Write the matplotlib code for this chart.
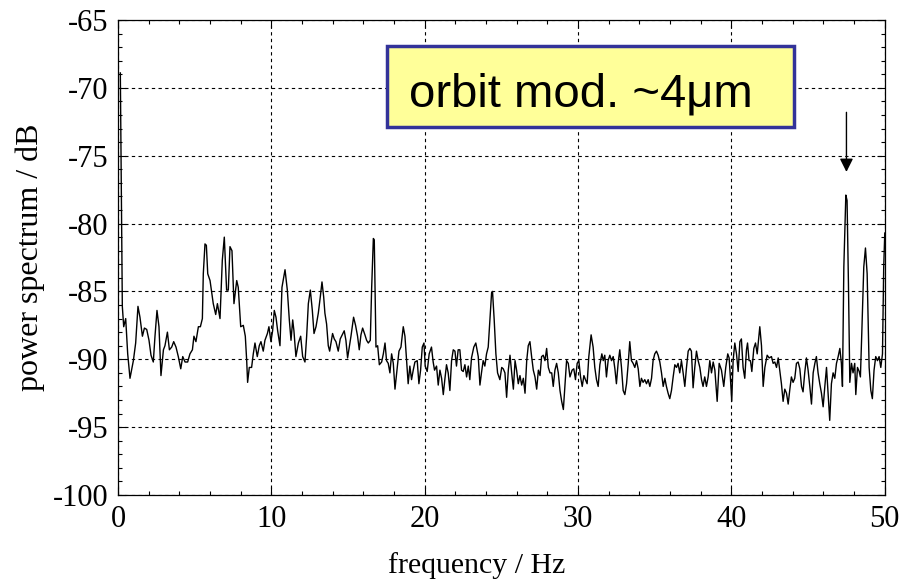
import matplotlib
matplotlib.use("Agg")
import matplotlib.pyplot as plt
from matplotlib.patches import Rectangle
from matplotlib.ticker import MultipleLocator

# spectrum, frequency in Hz / power in dB
freq = [
    0.15, 0.28, 0.37, 0.50, 0.63, 0.78, 1.00, 1.15, 1.30, 1.43, 1.59, 1.72, 1.87, 2.02, 2.15, 2.30,
    2.41, 2.54, 2.67, 2.80, 2.96, 3.06, 3.22, 3.35, 3.50, 3.63, 3.78, 3.93, 4.09, 4.22, 4.37, 4.54,
    4.69, 4.85, 4.95, 5.08, 5.24, 5.37, 5.50, 5.56, 5.67, 5.76, 5.85, 6.00, 6.21, 6.37, 6.48, 6.65,
    6.80, 6.93, 7.08, 7.19, 7.30, 7.43, 7.56, 7.74, 7.84, 8.00, 8.17, 8.30, 8.39, 8.45, 8.56, 8.71,
    8.82, 8.93, 9.08, 9.21, 9.32, 9.47, 9.58, 9.74, 9.84, 9.97, 10.08, 10.19, 10.30, 10.41, 10.56,
    10.69, 10.89, 11.04, 11.17, 11.28, 11.39, 11.47, 11.60, 11.76, 11.91, 12.04, 12.19, 12.30, 12.41,
    12.54, 12.67, 12.78, 12.91, 13.06, 13.19, 13.30, 13.41, 13.49, 13.60, 13.71, 13.80, 13.89, 13.99,
    14.10, 14.21, 14.36, 14.49, 14.62, 14.75, 14.86, 14.97, 15.08, 15.19, 15.36, 15.49, 15.62, 15.73,
    15.84, 15.95, 16.10, 16.21, 16.32, 16.45, 16.54, 16.65, 16.71, 16.82, 16.93, 17.04, 17.19, 17.30,
    17.41, 17.51, 17.62, 17.73, 17.84, 17.95, 18.06, 18.19, 18.32, 18.45, 18.60, 18.71, 18.82, 18.92,
    19.03, 19.14, 19.25, 19.36, 19.51, 19.62, 19.73, 19.84, 19.95, 20.03, 20.16, 20.29, 20.44, 20.55,
    20.64, 20.77, 20.88, 20.99, 21.10, 21.21, 21.31, 21.42, 21.53, 21.64, 21.75, 21.86, 21.97, 22.07,
    22.18, 22.29, 22.40, 22.51, 22.62, 22.73, 22.84, 22.94, 23.05, 23.20, 23.33, 23.49, 23.60, 23.70,
    23.81, 23.92, 24.03, 24.14, 24.25, 24.36, 24.42, 24.53, 24.64, 24.75, 24.90, 25.02, 25.12, 25.23,
    25.34, 25.45, 25.56, 25.67, 25.78, 25.89, 25.99, 26.10, 26.21, 26.32, 26.43, 26.54, 26.65, 26.75,
    26.86, 26.97, 27.08, 27.19, 27.30, 27.41, 27.52, 27.62, 27.73, 27.84, 27.95, 28.06, 28.17, 28.28,
    28.38, 28.49, 28.60, 28.71, 28.82, 28.93, 29.04, 29.14, 29.25, 29.36, 29.47, 29.61, 29.72, 29.83,
    29.94, 30.05, 30.16, 30.27, 30.38, 30.48, 30.59, 30.70, 30.85, 30.98, 31.09, 31.20, 31.31, 31.42,
    31.55, 31.64, 31.74, 31.85, 31.96, 32.07, 32.18, 32.29, 32.40, 32.50, 32.61, 32.72, 32.83, 32.94,
    33.05, 33.16, 33.27, 33.37, 33.48, 33.59, 33.70, 33.81, 33.92, 34.03, 34.13, 34.24, 34.35, 34.46,
    34.57, 34.68, 34.79, 34.89, 35.00, 35.11, 35.22, 35.33, 35.44, 35.55, 35.66, 35.76, 35.87, 35.98,
    36.09, 36.20, 36.31, 36.42, 36.52, 36.63, 36.74, 36.85, 36.96, 37.07, 37.18, 37.29, 37.39, 37.50,
    37.61, 37.72, 37.83, 37.94, 38.05, 38.15, 38.26, 38.37, 38.48, 38.59, 38.70, 38.81, 38.92, 39.07,
    39.20, 39.35, 39.50, 39.63, 39.76, 39.85, 39.94, 40.02, 40.11, 40.22, 40.33, 40.44, 40.55, 40.65,
    40.76, 40.87, 40.98, 41.05, 41.15, 41.24, 41.33, 41.46, 41.57, 41.68, 41.85, 41.96, 42.07, 42.18,
    42.33, 42.46, 42.61, 42.72, 42.83, 42.94, 43.05, 43.15, 43.26, 43.37, 43.48, 43.59, 43.70, 43.81,
    43.91, 44.02, 44.13, 44.24, 44.35, 44.46, 44.57, 44.67, 44.78, 44.89, 45.00, 45.11, 45.22, 45.33,
    45.44, 45.54, 45.65, 45.76, 45.87, 45.98, 46.09, 46.20, 46.30, 46.41, 46.52, 46.63, 46.74, 46.85,
    46.96, 47.07, 47.17, 47.24, 47.33, 47.46, 47.54, 47.63, 47.72, 47.83, 47.93, 48.04, 48.11, 48.22,
    48.33, 48.41, 48.50, 48.63, 48.74, 48.85, 48.98, 49.09, 49.19, 49.30, 49.41, 49.52, 49.63, 49.74,
    49.85, 49.93, 50.00,
]
power = [
    -68.9, -86.1, -87.6, -87.0, -89.6, -91.4, -90.1, -88.8, -86.1, -86.9, -88.3, -87.7, -87.8, -88.6, -89.7, -90.2,
    -88.3, -86.4, -87.6, -91.2, -89.3, -89.0, -88.0, -89.3, -89.1, -88.7, -89.1, -89.8, -90.7, -89.8, -90.2, -90.2,
    -89.6, -89.3, -88.3, -88.7, -87.6, -87.6, -87.0, -83.7, -81.5, -81.6, -83.7, -84.2, -85.9, -86.7, -85.9, -87.0,
    -82.7, -81.0, -84.9, -84.9, -81.7, -82.0, -85.9, -84.2, -84.7, -87.6, -87.5, -88.3, -90.1, -91.7, -90.6, -90.6,
    -89.6, -88.8, -89.8, -89.0, -88.7, -89.4, -88.6, -88.1, -87.6, -88.7, -87.9, -86.4, -86.9, -87.9, -89.0,
    -84.7, -83.4, -84.9, -87.1, -88.6, -87.1, -87.9, -89.8, -88.8, -88.3, -89.8, -90.2, -88.3, -85.9,
    -84.9, -86.4, -88.1, -87.6, -86.6, -85.4, -84.3, -85.4, -86.6, -87.4, -89.0, -89.4, -88.8, -88.1,
    -88.5, -88.7, -89.4, -88.5, -88.2, -87.9, -88.6, -89.9, -89.1, -88.3, -86.9, -87.5, -88.3, -89.3,
    -88.2, -87.7, -88.2, -88.6, -88.8, -88.6, -84.7, -81.1, -81.2, -89.1, -89.0, -90.4, -90.2, -89.6,
    -88.8, -90.1, -90.3, -91.0, -89.6, -90.3, -92.2, -90.8, -89.4, -89.1, -87.6, -88.3, -90.1, -91.8,
    -90.5, -91.5, -90.8, -90.2, -90.1, -91.8, -90.8, -89.1, -88.8, -90.5, -90.9, -89.6, -89.1, -90.2,
    -90.8, -90.5, -91.9, -90.8, -91.4, -92.6, -91.5, -90.4, -91.0, -92.3, -90.1, -89.3, -89.4, -90.5,
    -89.3, -89.3, -90.8, -90.9, -90.4, -91.3, -90.5, -91.5, -89.9, -89.1, -88.8, -89.8, -91.9, -91.0,
    -90.1, -90.5, -89.6, -89.1, -87.1, -85.1, -85.0, -87.1, -89.6, -91.0, -91.5, -90.6, -90.7, -91.0,
    -92.8, -90.8, -89.7, -91.0, -92.2, -90.1, -90.8, -91.8, -91.2, -91.9, -91.4, -92.5, -90.1, -89.0,
    -88.7, -89.8, -90.8, -91.3, -92.2, -90.8, -91.2, -89.8, -89.7, -90.1, -89.2, -90.6, -91.0, -91.0,
    -92.0, -90.8, -90.3, -91.0, -92.3, -93.1, -93.7, -92.0, -90.1, -90.3, -91.3, -90.8, -90.7, -91.5,
    -90.3, -90.1, -91.3, -92.0, -91.2, -91.5, -91.8, -89.8, -88.2, -89.1, -90.6, -91.5, -92.0, -90.4,
    -89.6, -90.1, -89.7, -91.3, -90.1, -89.7, -90.1, -89.8, -90.7, -91.8, -90.3, -89.3, -90.6, -92.3,
    -92.6, -91.8, -90.3, -88.7, -90.1, -90.3, -90.6, -90.1, -90.7, -92.0, -91.4, -91.7, -91.5, -91.8,
    -91.5, -92.0, -91.4, -90.1, -89.6, -89.4, -89.7, -90.2, -91.0, -92.0, -91.4, -92.0, -92.5, -92.9,
    -92.3, -91.3, -90.4, -90.6, -90.3, -91.0, -90.1, -91.0, -92.0, -90.6, -89.4, -89.2, -89.4, -92.1,
    -90.6, -89.4, -90.1, -90.6, -91.5, -92.0, -91.3, -92.0, -91.3, -90.1, -91.0, -90.2, -90.8, -93.1,
    -90.3, -90.8, -92.0, -90.6, -89.6, -89.9, -91.5, -93.1, -90.1, -88.8, -89.6, -90.9, -88.7, -88.5,
    -90.6, -91.4, -89.3, -88.8, -90.1, -90.1, -90.9, -89.2, -88.8, -89.6, -87.6, -89.0, -92.0, -90.6,
    -89.7, -89.9, -89.8, -90.3, -90.2, -90.6, -89.9, -90.8, -91.8, -93.1, -92.2, -92.5, -93.3, -92.2,
    -91.3, -91.7, -91.4, -90.3, -90.2, -90.7, -92.0, -92.4, -91.0, -89.9, -90.8, -92.0, -93.3, -91.0,
    -90.3, -89.8, -91.0, -91.8, -92.5, -93.5, -92.0, -90.6, -92.5, -94.5, -91.8, -91.0, -91.4, -90.3,
    -89.8, -89.2, -90.3, -92.0, -83.2, -77.9, -78.3, -84.4, -91.7, -90.3, -91.0, -90.3, -92.6, -90.6,
    -90.9, -91.3, -88.1, -83.2, -81.8, -83.7, -90.6, -92.3, -92.9, -90.8, -89.8, -90.1, -89.8, -90.6,
    -89.6, -83.2, -80.7,
]

x_ticks = [0, 10, 20, 30, 40, 50]
y_ticks = [-100, -95, -90, -85, -80, -75, -70, -65]
note_text = "orbit mod. ~4\u03bcm"
arrow_freq = 47.5

plt.rcParams["font.family"] = ["Liberation Serif", "DejaVu Serif"]
plt.rcParams["axes.unicode_minus"] = False

fig = plt.figure(figsize=(9.01, 5.81), dpi=100)
ax = fig.add_axes([0.131, 0.148, 0.851, 0.8176])

ax.plot(freq, power, color="black", lw=1.0, zorder=3)

ax.set_xlim(0, 50)
ax.set_ylim(-100, -65)
ax.set_xticks(x_ticks)
ax.set_yticks(y_ticks)
ax.xaxis.set_minor_locator(MultipleLocator(2))
ax.yaxis.set_minor_locator(MultipleLocator(1))
ax.tick_params(which="both", direction="in", top=True, right=True, labelsize=22, width=0.8)
ax.tick_params(which="major", length=6, pad=7)
ax.tick_params(which="minor", length=3)
for s in ax.spines.values():
    s.set_linewidth(0.9)

ax.grid(True, which="major", color="black", ls=(0, (3, 3)), lw=0.8)

ax.set_xlabel("frequency / Hz", fontsize=21.5, va="center")
ax.set_ylabel("power spectrum / dB", fontsize=23, va="center")
ax.xaxis.set_label_coords(0.468, -0.149)
ax.yaxis.set_label_coords(-0.115, 0.5)

# yellow note box
ax.add_patch(Rectangle((17.55, -72.9), 26.55, 5.95, facecolor="#FFFF99",
                       edgecolor="#333399", lw=2.5, zorder=4))
ax.text(18.95, -70.5, note_text, fontsize=34, family=["Liberation Sans", "DejaVu Sans"],
        va="center", ha="left", zorder=5)

# arrow marking the orbit modulation line
ax.annotate("", xy=(arrow_freq, -76.4), xytext=(arrow_freq, -71.6),
            arrowprops=dict(arrowstyle="-|>", color="black", lw=1, mutation_scale=20))

fig.savefig("out.png", dpi=100)
